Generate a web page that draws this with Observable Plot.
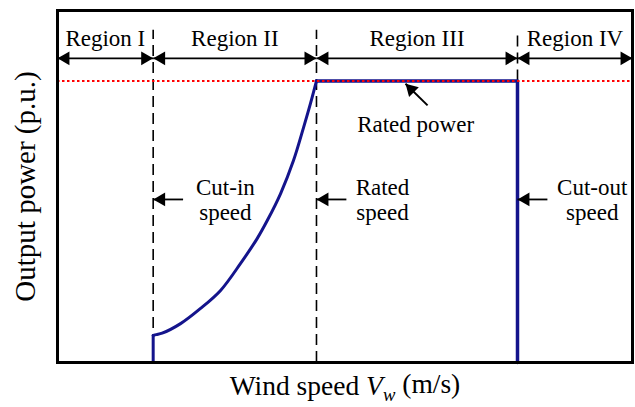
<!DOCTYPE html>
<html>
<head>
<meta charset="utf-8">
<script src="https://cdn.jsdelivr.net/npm/d3@7"></script>
<script src="https://cdn.jsdelivr.net/npm/@observablehq/plot@0.6"></script>
<style>
  html, body { margin: 0; padding: 0; background: #fff; }
  #chart { width: 635px; height: 407px; }
</style>
</head>
<body>
<div id="chart"></div>
<script>
// Region boundaries on the wind-speed axis (arbitrary units)
const boundaries = [0, 4.16, 11.26, 20, 25];      // start, cut-in, rated, cut-out, end
const regionNames = ["Region I", "Region II", "Region III", "Region IV"];
const ratedPower = 1.0;

// Cut-in jump (vertical segment at cut-in speed)
const jumpSpeed = [4.16, 4.16];
const jumpPower = [0.0, 0.096];

// Region II power curve (wind speed, p.u. power)
const curveSpeed = [4.16, 4.3, 4.55, 5.35, 6.22, 7.09, 7.96, 8.68, 9.12, 9.70, 10.26, 10.70, 11.0, 11.26];
const curvePower = [0.096, 0.099, 0.104, 0.138, 0.192, 0.256, 0.352, 0.440, 0.504, 0.600, 0.717, 0.835, 0.920, 1.0];

// Region III / IV part of the characteristic
const flatSpeed = [11.26, 20, 20];
const flatPower = [1.0, 1.0, 0.0];

// Annotation levels (p.u.)
const regionLabelLevel = 1.15;
const regionArrowLevel = 1.08;
const dashTopLevel = 1.18;
const calloutLevel = 0.579;

// Callouts
const calloutLabels = ["Cut-in\nspeed", "Rated\nspeed", "Cut-out\nspeed"];
const calloutTips = [4.16, 11.26, 20];
const calloutTails = [5.46, 12.56, 21.3];
const calloutTextX = [7.30, 14.13, 23.25];

const ratedPowerLabel = "Rated power";
const ratedPowerText = [15.57, 0.845];
const ratedPowerArrow = [16.09, 0.913, 15.13, 0.99]; // tail x,y -> tip x,y

// Derived tables
const jump = jumpSpeed.map((v, i) => ({v, p: jumpPower[i]}));
const curve = curveSpeed.map((v, i) => ({v, p: curvePower[i]}));
const flat = flatSpeed.map((v, i) => ({v, p: flatPower[i]}));
const regions = regionNames.map((name, i) => ({name, a: boundaries[i], b: boundaries[i + 1], mid: (boundaries[i] + boundaries[i + 1]) / 2}));
const dashed = [
  {v: boundaries[1], y1: 0, y2: dashTopLevel},
  {v: boundaries[2], y1: 0, y2: dashTopLevel},
  {v: boundaries[3], y1: ratedPower, y2: dashTopLevel}
];
const callouts = calloutLabels.map((label, i) => ({label, tip: calloutTips[i], tail: calloutTails[i], tx: calloutTextX[i]}));

const serif = "Liberation Serif, Times New Roman, serif";
const headR = 5.1;
const headOff = 8;
const blue = "#14148c";

const plot = Plot.plot({
  width: 635,
  height: 407,
  marginLeft: 57,
  marginRight: 3,
  marginTop: 10,
  marginBottom: 45,
  x: {domain: [boundaries[0], boundaries[4]], axis: null},
  y: {domain: [0, 1.25], axis: null},
  style: {fontFamily: serif, background: "white", overflow: "visible"},
  marks: [
    // dashed boundary lines
    Plot.ruleX(dashed, {x: "v", y1: "y1", y2: "y2", stroke: "black", strokeWidth: 1.6, strokeDasharray: "11,6"}),
    // power characteristic
    Plot.line(jump, {x: "v", y: "p", stroke: blue, strokeWidth: 3}),
    Plot.line(curve, {x: "v", y: "p", stroke: blue, strokeWidth: 3, curve: "catmull-rom"}),
    Plot.line(flat, {x: "v", y: "p", stroke: blue, strokeWidth: 3.5}),
    // rated power dotted line
    Plot.ruleY([ratedPower], {stroke: "#ff0000", strokeWidth: 2, strokeDasharray: "2.5,2.5"}),
    // region arrows
    Plot.link(regions, {x1: "a", x2: "b", y1: () => regionArrowLevel, y2: () => regionArrowLevel, stroke: "black", strokeWidth: 1.8}),
    Plot.dot(regions, {x: "a", y: () => regionArrowLevel, symbol: "triangle", r: headR, rotate: -90, dx: headOff, fill: "black", stroke: "none"}),
    Plot.dot(regions, {x: "b", y: () => regionArrowLevel, symbol: "triangle", r: headR, rotate: 90, dx: -headOff, fill: "black", stroke: "none"}),
    Plot.text(regions, {x: "mid", y: () => regionLabelLevel, text: "name", fontSize: 23, fill: "black"}),
    // callouts
    Plot.link(callouts, {x1: "tail", x2: "tip", y1: () => calloutLevel, y2: () => calloutLevel, stroke: "black", strokeWidth: 1.8}),
    Plot.dot(callouts, {x: "tip", y: () => calloutLevel, symbol: "triangle", r: headR, rotate: -90, dx: headOff, fill: "black", stroke: "none"}),
    Plot.text(callouts, {x: "tx", y: () => calloutLevel, text: "label", fontSize: 23, lineHeight: 1.1, fill: "black"}),
    // rated power callout
    Plot.link([ratedPowerArrow], {x1: d => d[0], y1: d => d[1], x2: d => d[2], y2: d => d[3], stroke: "black", strokeWidth: 2}),
    Plot.dot([ratedPowerArrow], {x: d => d[2], y: d => d[3], symbol: "triangle", r: headR, rotate: -45, dx: headOff * 0.707, dy: headOff * 0.707, fill: "black", stroke: "none"}),
    Plot.text([ratedPowerLabel], {x: () => ratedPowerText[0], y: () => ratedPowerText[1], text: d => d, fontSize: 23, fill: "black"}),
    // frame
    Plot.frame({stroke: "black", strokeWidth: 3}),
    // axis titles
    Plot.text(["Wind speed Vw (m/s)"], {frameAnchor: "bottom", textAnchor: "middle", lineAnchor: "middle", dy: 24, text: d => d, fontSize: 27.5, fill: "black"}),
    Plot.text(["Output power (p.u.)"], {frameAnchor: "left", textAnchor: "middle", lineAnchor: "middle", dx: -32, rotate: -90, text: d => d, fontSize: 29, fill: "black"})
  ]
});

// Typeset V_w in the x-axis title (italic V, subscript w)
plot.querySelectorAll("text").forEach(t => {
  if (t.textContent === "Wind speed Vw (m/s)") {
    t.textContent = "";
    const ns = "http://www.w3.org/2000/svg";
    const parts = [
      {s: "Wind speed "},
      {s: "V", italic: true},
      {s: "w", italic: true, size: "0.68em", dy: "0.3em"},
      {s: " (m/s)", dy: "-0.3em"}
    ];
    for (const p of parts) {
      const ts = document.createElementNS(ns, "tspan");
      ts.textContent = p.s;
      if (p.italic) ts.setAttribute("font-style", "italic");
      if (p.size) ts.setAttribute("font-size", p.size);
      if (p.dy) ts.setAttribute("dy", p.dy);
      t.appendChild(ts);
    }
  }
});

document.getElementById("chart").appendChild(plot);
</script>
</body>
</html>
